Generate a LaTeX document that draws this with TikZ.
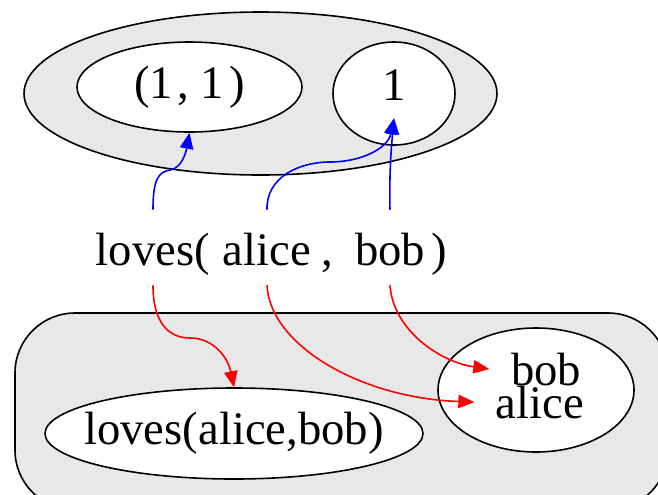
\documentclass[tikz,border=0pt]{standalone}
\usepackage{fontspec}
\setmainfont{Liberation Serif}
\usetikzlibrary{shapes.geometric,arrows.meta}
\begin{document}
\begin{tikzpicture}[x=0.75pt,y=-0.75pt,
  every node/.style={font=\fontsize{35}{40}\selectfont},
  outline/.style={draw=black,line width=1.2pt},
  grp/.style={outline,fill=black!9},
  ell/.style={outline,fill=white,ellipse,inner sep=0pt},
  word/.style={anchor=base,inner sep=0pt,text height=41.25pt,text depth=15pt},
  blk/.style={anchor=base,inner xsep=16pt,inner ysep=0pt},
  blu/.style={draw=blue,line width=1.2pt,-{Triangle[length=12pt,width=10pt]}},
  rd/.style={draw=red,line width=1.2pt,-{Triangle[length=12pt,width=10pt]}}]
\useasboundingbox (0,0) rectangle (658,494);
\clip (0,0) rectangle (658,494);
% top group
\node[grp,ellipse,minimum width=354.75pt,minimum height=122.25pt] (topg) at (260.5,93.5) {};
\node[ell,minimum width=168.75pt,minimum height=67.5pt] (pair) at (189.5,87) {};
\node[inner sep=0pt] (pairtxt) at (pair.center) {(1\kern3pt, 1\kern4pt)};
\node[ell,minimum width=91.5pt,minimum height=77.25pt] (onec) at (394,93.5) {};
\node[anchor=base,inner sep=0pt,text depth=13.5pt] (one) at (394,100) {1};
% bottom group
\path[grp,rounded corners=45pt] (15,313) rectangle (668,510);
\node[ell,minimum width=283.5pt,minimum height=68.25pt] (lab) at (234,433.5) {};
\node[inner sep=0pt] (labtxt) at (lab.center) {loves(alice,bob)};
\node[ell,minimum width=147pt,minimum height=93pt] (set) at (536,390) {};
\node[blk] (bob) at (546,385) {bob};
\node[blk] (alice) at (540,418) {alice};
% middle term
\node[word] (lv) at (153,265) {loves(};
\node[word] (al) at (267,265) {alice};
\node[word] (cm) at (327,265) {,};
\node[word] (bb) at (390,265) {bob};
\node[word] (rp) at (439,265) {)};
% blue arrows
\draw[blu] (lv.north) .. controls (153,180) and (158,172) .. (170,170) .. controls (182,168) and (186,152) .. (pair.south);
\draw[blu] (al.north) .. controls (266,178) and (298,162) .. (330,162) .. controls (362,162) and (388,148) .. (one.south);
\draw[blu] (bb.north) .. controls (389,170) and (392,140) .. (one.south);
% red arrows
\draw[rd] (lv.south) .. controls (153,322) and (168,338) .. (190,338) .. controls (214,338) and (228,358) .. (lab.north);
\draw[rd] (al.south) .. controls (270,345) and (360,398) .. (alice.west);
\draw[rd] (bb.south) .. controls (393,330) and (440,362) .. (bob.west);
\end{tikzpicture}
\end{document}
